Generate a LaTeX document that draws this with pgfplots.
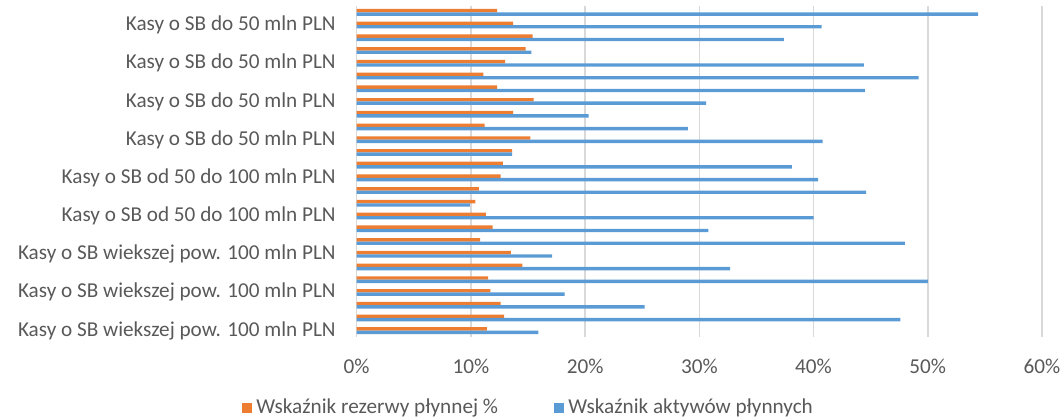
\documentclass[border=0pt]{standalone}
\usepackage{pgfplots}
\pgfplotsset{compat=1.18}
\usepackage{pgfplotstable}
\usepackage{fontspec}
\setmainfont{Carlito}
\definecolor{cOrange}{HTML}{ED7D31}
\definecolor{cBlue}{HTML}{5B9BD5}
\definecolor{cGrid}{HTML}{D9D9D9}
\definecolor{cText}{HTML}{595959}
\pgfplotstableread{
row rez akt
1 11.4 15.9
2 12.9 47.6
3 12.6 25.2
4 11.7 18.2
5 11.5 50.0
6 14.5 32.7
7 13.5 17.1
8 10.8 48.0
9 11.9 30.8
10 11.3 40.0
11 10.4 9.9
12 10.7 44.6
13 12.6 40.4
14 12.8 38.1
15 13.6 13.6
16 15.2 40.8
17 11.2 29.0
18 13.7 20.3
19 15.5 30.6
20 12.3 44.5
21 11.1 49.2
22 13.0 44.4
23 14.8 15.3
24 15.4 37.4
25 13.7 40.7
26 12.3 54.4
}\datatable
\begin{document}
\begin{tikzpicture}
\path[use as bounding box] (0,0) rectangle (532pt,209pt);
\begin{axis}[
  at={(178.35pt,40.5pt)}, anchor=south west,
  scale only axis, width=342.65pt, height=165.5pt,
  xmin=0, xmax=60, ymin=0.5, ymax=26.5,
  xtick={0,10,20,30,40,50,60},
  xticklabels={0\%,10\%,20\%,30\%,40\%,50\%,60\%},
  ytick={1,4,7,10,13,16,19,22,25},
  yticklabels={Kasy o SB wiekszej pow. 100 mln PLN,Kasy o SB wiekszej pow. 100 mln PLN,Kasy o SB wiekszej pow. 100 mln PLN,Kasy o SB od 50 do 100 mln PLN,Kasy o SB od 50 do 100 mln PLN,Kasy o SB do 50 mln PLN,Kasy o SB do 50 mln PLN,Kasy o SB do 50 mln PLN,Kasy o SB do 50 mln PLN},
  xmajorgrids, major grid style={draw=cGrid, line width=0.75pt},
  axis x line*=bottom, axis y line*=left,
  x axis line style={draw=none},
  y axis line style={draw=cGrid, line width=0.75pt, -},
  major tick length=0pt, tick style={draw=none},
  ticklabel style={font=\fontsize{10.6}{12}\selectfont, text=cText},
  /pgf/number format/assume math mode=true,
  yticklabel style={anchor=east, inner sep=0pt, xshift=-10.3pt},
  xticklabel style={anchor=center, inner sep=0pt, yshift=-14.8pt},
  legend style={at={(0.2521,-0.2145)}, anchor=center, draw=none, fill=none,
    font=\fontsize{10.6}{12}\selectfont, text=cText, legend columns=2,
    /tikz/every even column/.append style={column sep=26pt}},
  legend cell align=left,
]
\addplot[xbar, bar width=1.7pt, bar shift=0.85pt, fill=cOrange, draw=none,
  legend image code/.code={\fill[cOrange] (0pt,-2.6pt) rectangle (5.2pt,2.6pt);}]
  table[x=rez, y=row] {\datatable};
\addlegendentry{Wskaźnik rezerwy płynnej \%}
\addplot[xbar, bar width=1.7pt, bar shift=-0.85pt, fill=cBlue, draw=none,
  legend image code/.code={\fill[cBlue] (0pt,-2.6pt) rectangle (5.2pt,2.6pt);}]
  table[x=akt, y=row] {\datatable};
\addlegendentry{Wskaźnik aktywów płynnych}
\end{axis}
\end{tikzpicture}
\end{document}
